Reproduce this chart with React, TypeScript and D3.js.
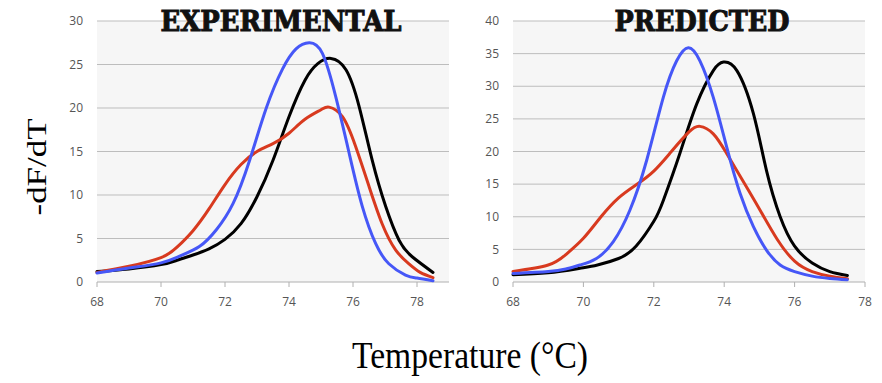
import React from "react";
import * as d3 from "d3";

// EXPERIMENTAL panel (temperature °C, -dF/dT)
const expBlue: [number, number][] = [
  [68, 1.03], [69, 1.6], [70, 2.2], [70.6, 3.0], [71.21, 4.1], [71.73, 6.0], [72.25, 9.0], [72.77, 14.0],
  [73.29, 20.0], [73.8, 24.5], [74.22, 26.8], [74.63, 27.5], [75.04, 26.3], [75.46, 21.3], [75.88, 14.8],
  [76.29, 8.7], [76.71, 4.4], [77.12, 2.1], [77.64, 0.8], [78, 0.45], [78.5, 0.15],
];
const expBlack: [number, number][] = [
  [68, 1.2], [69, 1.5], [70, 2.0], [70.5, 2.5], [71, 3.1], [71.5, 3.8], [72, 4.9], [72.5, 6.7], [73, 9.8],
  [73.5, 14.0], [74, 19.0], [74.5, 23.2], [74.9, 25.1], [75.31, 25.7], [75.78, 24.4], [76.19, 20.2],
  [76.6, 14.0], [77.02, 8.7], [77.44, 4.8], [77.85, 2.9], [78.5, 1.1],
];
const expRed: [number, number][] = [
  [68, 1.1], [69, 1.8], [70, 2.8], [70.5, 4.0], [71, 5.9], [71.5, 8.4], [72, 11.2], [72.5, 13.5], [73, 15.0],
  [73.5, 15.9], [74, 17.1], [74.5, 18.7], [75, 19.8], [75.25, 20.1], [75.67, 19.0], [76.08, 15.6],
  [76.5, 11.0], [76.91, 6.7], [77.33, 3.7], [77.74, 2.1], [78.1, 1.1], [78.5, 0.5],
];

// PREDICTED panel
const predBlue: [number, number][] = [
  [68, 1.3], [69, 1.6], [69.5, 2.0], [69.9, 2.6], [70.37, 3.6], [70.85, 6.2], [71.32, 11.0], [71.8, 18.7],
  [72.27, 28.3], [72.65, 33.9], [72.98, 35.9], [73.31, 33.9], [73.69, 28.3], [74.07, 20.7], [74.45, 13.6],
  [74.83, 8.5], [75.2, 4.9], [75.59, 2.6], [76, 1.6], [76.5, 0.9], [77, 0.55], [77.5, 0.35],
];
const predBlack: [number, number][] = [
  [68, 1.1], [69, 1.4], [69.9, 2.1], [70.4, 2.6], [71, 3.6], [71.5, 5.5], [72, 9.3], [72.27, 12.5],
  [72.74, 19.7], [73.22, 27.3], [73.69, 32.4], [73.98, 33.7], [74.36, 32.4], [74.83, 25.8], [75.2, 17.1],
  [75.59, 10], [76, 5.5], [76.5, 2.9], [77, 1.6], [77.5, 1.0],
];
const predRed: [number, number][] = [
  [68, 1.6], [69, 2.6], [69.5, 4.2], [70, 6.7], [70.5, 10.0], [71, 12.9], [71.5, 14.9], [72, 17.0],
  [72.5, 20.0], [73, 23.0], [73.31, 23.85], [73.69, 22.7], [74.07, 19.7], [74.5, 15.8], [75, 11.2],
  [75.5, 6.6], [76, 3.2], [76.5, 1.6], [77, 0.9], [77.5, 0.5],
];

const xTicks = [68, 70, 72, 74, 76, 78];
const expYTicks = [0, 5, 10, 15, 20, 25, 30];
const predYTicks = [0, 5, 10, 15, 20, 25, 30, 35, 40];

const BLUE = "#4657f7";
const RED = "#d83a1f";
const BLACK = "#000000";

type PanelProps = {
  left: number;
  right: number;
  xMax: number;
  yMax: number;
  yTicks: number[];
  series: { data: [number, number][]; color: string }[];
  title: string;
  titleX: number;
  titleW: number;
};

const TOP = 21;
const BOTTOM = 282;

function Panel({ left, right, xMax, yMax, yTicks, series, title, titleX, titleW }: PanelProps) {
  const x = d3.scaleLinear().domain([68, xMax]).range([left, right]);
  const y = d3.scaleLinear().domain([0, yMax]).range([BOTTOM, TOP]);
  const line = d3
    .line<[number, number]>()
    .x((d) => x(d[0]))
    .y((d) => y(d[1]))
    .curve(d3.curveNatural);
  const tickFont = "'Liberation Sans Narrow', 'Open Sans', sans-serif";
  return (
    <g>
      <rect x={left} y={TOP} width={right - left} height={BOTTOM - TOP} fill="#f6f6f6" />
      {yTicks.map((t) => (
        <g key={t}>
          <line x1={left} x2={right} y1={y(t)} y2={y(t)} stroke={t === 0 ? "#b0b0b0" : "#bdbdbd"} strokeWidth={1} />
          <text x={left - 14} y={y(t)} dy="0.35em" textAnchor="end" fontSize={12} fill="#555" fontFamily={tickFont}>
            {t}
          </text>
        </g>
      ))}
      {xTicks.map((t) => (
        <g key={t}>
          <line x1={x(t)} x2={x(t)} y1={BOTTOM} y2={BOTTOM + 5} stroke="#b0b0b0" strokeWidth={1} />
          <text x={x(t)} y={306} textAnchor="middle" fontSize={12} fill="#555" fontFamily={tickFont}>
            {t}
          </text>
        </g>
      ))}
      {series.map((s, i) => (
        <path key={i} d={line(s.data) || ""} fill="none" stroke={s.color} strokeWidth={3} strokeLinejoin="round" strokeLinecap="round" />
      ))}
      <text
        x={titleX}
        y={31}
        textAnchor="middle"
        fontSize={27}
        fontWeight={900}
        fontFamily="'DejaVu Serif', serif"
        fill="#111"
        textLength={titleW}
        lengthAdjust="spacingAndGlyphs"
        stroke="#111"
        strokeWidth={1}
      >
        {title}
      </text>
    </g>
  );
}

export default function App() {
  return (
    <svg width={882} height={383} style={{ position: "absolute", left: 0, top: 0, background: "#fff" }}>
      <Panel
        left={97}
        right={449}
        xMax={79}
        yMax={30}
        yTicks={expYTicks}
        series={[
          { data: expBlack, color: BLACK },
          { data: expRed, color: RED },
          { data: expBlue, color: BLUE },
        ]}
        title="EXPERIMENTAL"
        titleX={281}
        titleW={241}
      />
      <Panel
        left={513}
        right={865}
        xMax={78}
        yMax={40}
        yTicks={predYTicks}
        series={[
          { data: predBlack, color: BLACK },
          { data: predRed, color: RED },
          { data: predBlue, color: BLUE },
        ]}
        title="PREDICTED"
        titleX={702}
        titleW={175}
      />
      <text
        transform="translate(46,167) rotate(-90)"
        textAnchor="middle"
        fontSize={27}
        fontFamily="'Liberation Serif', 'Times New Roman', serif"
        fill="#000"
        textLength={97}
        lengthAdjust="spacingAndGlyphs"
      >
        -dF/dT
      </text>
      <text
        x={470}
        y={368}
        textAnchor="middle"
        fontSize={37}
        fontFamily="'Liberation Serif', 'Times New Roman', serif"
        fill="#000"
        textLength={236}
        lengthAdjust="spacingAndGlyphs"
      >
        Temperature (°C)
      </text>
    </svg>
  );
}
